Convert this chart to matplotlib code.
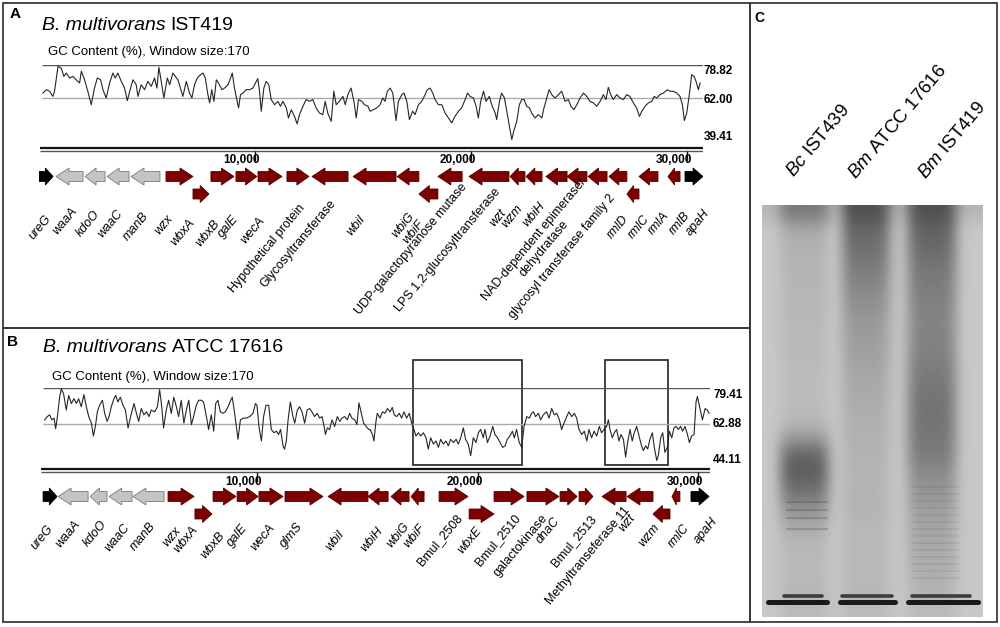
import numpy as np
import matplotlib.pyplot as plt
from matplotlib.patches import Polygon, Rectangle

plt.rcParams['font.family'] = ['Liberation Sans', 'DejaVu Sans']
plt.rcParams['mathtext.fontset'] = 'custom'
plt.rcParams['mathtext.rm'] = 'Liberation Sans'
plt.rcParams['mathtext.it'] = 'Liberation Sans:italic'
plt.rcParams['mathtext.bf'] = 'Liberation Sans:bold'

W, H = 1000, 627

# ---------------- data ----------------
# GC content (%) along the cluster, position in kb
ist_pos = [0.18, 0.34, 0.49, 0.64, 0.72, 0.88, 1.03, 1.15, 1.26, 1.42,
           1.57, 1.72, 1.88, 1.96, 2.11, 2.26, 2.42, 2.57, 2.70, 2.85,
           2.96, 3.11, 3.27, 3.42, 3.53, 3.65, 3.81, 3.96, 4.09, 4.24,
           4.35, 4.50, 4.58, 4.73, 4.89, 5.04, 5.20, 5.35, 5.46, 5.55,
           5.66, 5.78, 5.94, 6.05, 6.20, 6.31, 6.43, 6.55, 6.66, 6.82,
           6.97, 7.08, 7.20, 7.33, 7.48, 7.59, 7.70, 7.82, 7.90, 8.00,
           8.10, 8.21, 8.31, 8.47, 8.59, 8.75, 8.87, 8.95, 9.05, 9.24,
           9.33, 9.44, 9.59, 9.75, 9.90, 10.06, 10.13, 10.21, 10.29, 10.41,
           10.52, 10.64, 10.75, 10.91, 11.06, 11.18, 11.29, 11.45, 11.55, 11.68,
           11.83, 11.95, 12.06, 12.22, 12.37, 12.53, 12.68, 12.83, 12.99, 13.14,
           13.25, 13.37, 13.53, 13.65, 13.76, 13.91, 14.07, 14.18, 14.30, 14.45,
           14.58, 14.69, 14.79, 14.95, 15.07, 15.23,
           15.33, 15.48, 15.64, 15.79, 15.91, 16.02, 16.13, 16.26, 16.38, 16.53,
           16.64, 16.80, 16.90, 17.03, 17.15, 17.30, 17.41, 17.57, 17.72, 17.88,
           17.98, 18.11, 18.23, 18.34, 18.49, 18.65, 18.80, 18.96, 19.11, 19.26,
           19.42, 19.57, 19.73, 19.84, 19.96, 20.11, 20.24, 20.34, 20.45, 20.58,
           20.70, 20.85, 20.96, 21.12, 21.19, 21.32, 21.42, 21.55, 21.66, 21.78,
           21.89, 22.00, 22.12, 22.24, 22.35, 22.46, 22.58, 22.71, 22.81, 22.97,
           23.12, 23.28, 23.38, 23.51, 23.62, 23.74, 23.89, 24.05, 24.20, 24.36,
           24.51, 24.63, 24.77, 24.90, 25.05, 25.21, 25.36, 25.51, 25.67, 25.82,
           25.98, 26.13, 26.25, 26.36, 26.47, 26.59, 26.75, 26.90, 27.06, 27.21,
           27.36, 27.52, 27.67, 27.80, 27.91, 28.06, 28.21, 28.37, 28.48, 28.60,
           28.75, 28.91, 29.09, 29.22, 29.37, 29.53, 29.68, 29.79, 29.88, 29.99,
           30.11, 30.22, 30.33, 30.42, 30.53, 30.61]
ist_gc = [64.5, 66.2, 65.4, 62.8, 65.4, 78.0, 77.1, 72.9, 74.6, 72.1,
          72.9, 71.2, 69.6, 75.5, 71.2, 65.4, 58.6, 67.0, 72.1, 71.2,
          66.2, 62.0, 69.6, 74.6, 72.1, 74.6, 70.4, 67.0, 60.7, 67.0,
          71.2, 68.7, 62.8, 68.7, 66.2, 70.4, 67.9, 72.1, 67.0, 77.5,
          70.4, 62.0, 72.1, 68.7, 74.6, 72.9, 71.2, 67.0, 62.8, 70.4,
          64.5, 62.0, 68.7, 72.1, 73.8, 74.6, 72.1, 63.7, 59.5, 66.2,
          60.3, 71.2, 69.6, 66.2, 67.0, 68.7, 72.1, 74.6, 67.0, 57.0,
          63.7, 64.5, 66.2, 66.2, 67.0, 70.4, 71.8, 65.4, 55.3, 67.0,
          70.4, 68.7, 61.2, 58.6, 60.3, 57.8, 60.3, 57.0, 51.9, 56.1,
          52.7, 48.9, 53.6, 57.8, 61.2, 60.3, 61.2, 57.0, 54.4, 53.6,
          60.3, 54.4, 50.2, 65.4, 58.6, 60.3, 62.8, 58.6, 63.7, 67.0,
          60.3, 51.9, 61.2, 60.3, 58.6, 57.8,
          55.3, 56.1, 57.0, 58.6, 62.0, 60.3, 65.4, 67.0, 64.5, 50.6,
          60.3, 63.7, 64.5, 60.3, 51.1, 55.3, 53.6, 58.6, 60.3, 63.7,
          66.2, 67.0, 64.5, 61.2, 58.6, 58.6, 54.4, 51.9, 49.4, 52.7,
          55.3, 57.0, 61.2, 64.5, 62.8, 62.0, 57.8, 51.9, 60.3, 65.4,
          60.3, 62.8, 58.6, 54.4, 51.1, 60.3, 64.5, 62.0, 55.3, 47.7,
          41.0, 46.0, 50.2, 58.6, 61.2, 61.2, 57.8, 57.0, 54.4, 51.9,
          53.6, 51.9, 57.0, 62.0, 66.2, 63.7, 62.0, 63.7, 65.4, 60.3,
          61.2, 57.8, 56.1, 58.6, 62.0, 64.5, 62.8, 60.3, 59.5, 57.8,
          60.3, 63.7, 61.2, 67.4, 63.7, 61.2, 63.7, 62.0, 61.2, 63.7,
          62.8, 59.5, 57.0, 52.7, 55.3, 57.8, 59.5, 60.3, 62.8, 62.0,
          63.7, 64.5, 66.2, 65.4, 65.4, 64.5, 62.8, 58.6, 50.6, 54.4,
          63.7, 73.8, 72.9, 70.4, 66.2, 69.6]
ist_levels = [39.41, 62.00, 78.82]

atcc_pos = [0.39, 0.51, 0.62, 0.72, 0.82, 0.89, 0.97, 1.07, 1.15, 1.25,
            1.37, 1.48, 1.60, 1.72, 1.83, 1.93, 2.05, 2.17, 2.28, 2.39,
            2.51, 2.60, 2.69, 2.78, 2.88, 3.01, 3.11, 3.22, 3.31, 3.41,
            3.53, 3.61, 3.71, 3.82, 3.94, 4.05, 4.17, 4.27, 4.36, 4.44,
            4.55, 4.65, 4.77, 4.89, 5.00, 5.12, 5.22, 5.38, 5.50, 5.60,
            5.68, 5.78, 5.90, 6.01, 6.13, 6.24, 6.36, 6.46, 6.58, 6.70,
            6.81, 6.92, 7.04, 7.14, 7.26, 7.37, 7.49, 7.59, 7.72, 7.82,
            7.94, 8.05, 8.14, 8.24, 8.35, 8.47, 8.58, 8.70, 8.82, 8.89,
            9.00, 9.15, 9.26, 9.38, 9.53, 9.68, 9.83, 9.94, 10.01, 10.10,
            10.21, 10.31, 10.42, 10.54, 10.66, 10.78, 10.89, 10.99, 11.08, 11.19,
            11.26, 11.34, 11.42, 11.52, 11.64, 11.72, 11.84, 11.94, 12.05, 12.17,
            12.28, 12.40, 12.50, 12.62, 12.74, 12.85, 12.96, 13.05, 13.11, 13.20,
            13.30, 13.41, 13.53, 13.65, 13.76, 13.86, 13.98, 14.10, 14.21, 14.31,
            14.44, 14.54, 14.63, 14.74, 14.84, 14.96, 15.07,
            15.13, 15.24, 15.31, 15.40, 15.46, 15.58, 15.69, 15.81, 15.92, 16.04,
            16.14, 16.23, 16.34, 16.46, 16.56, 16.67, 16.79, 16.91, 17.02, 17.12,
            17.21, 17.32, 17.43, 17.55, 17.67, 17.77, 17.88, 18.00, 18.12, 18.23,
            18.33, 18.45, 18.57, 18.68, 18.78, 18.91, 19.03, 19.13, 19.24, 19.36,
            19.46, 19.58, 19.69, 19.81, 19.93, 20.04, 20.14, 20.26, 20.34, 20.45,
            20.57, 20.69, 20.79, 20.91, 21.02, 21.14, 21.25, 21.35, 21.47, 21.58,
            21.67, 21.77, 21.89, 22.00, 22.11, 22.23, 22.35, 22.45, 22.53, 22.63,
            22.76, 22.86, 22.98, 23.13, 23.24, 23.36, 23.48, 23.59, 23.71, 23.81,
            23.92, 24.04, 24.14, 24.27, 24.39, 24.49, 24.60, 24.72, 24.84, 24.95,
            25.05, 25.17, 25.28, 25.40, 25.52, 25.62, 25.73, 25.85, 25.93, 26.00,
            26.11, 26.20, 26.30, 26.41, 26.50, 26.61, 26.71, 26.80, 26.91, 27.01,
            27.10, 27.21, 27.32, 27.41, 27.51, 27.62, 27.71, 27.81, 27.92, 28.01,
            28.12, 28.19, 28.30, 28.39, 28.49, 28.60, 28.69, 28.80, 28.90, 28.99,
            29.10, 29.20, 29.29, 29.40, 29.51, 29.60, 29.70, 29.81, 29.90, 29.96,
            30.08, 30.19, 30.31, 30.41, 30.49]
atcc_gc = [64.8, 66.3, 67.1, 64.8, 65.6, 60.7, 66.3, 75.2, 79.0, 76.7,
           69.3, 76.0, 72.3, 74.5, 72.3, 74.5, 70.8, 76.4, 70.8, 66.3,
           63.3, 57.4, 61.8, 68.5, 71.5, 73.8, 67.8, 64.1, 66.3, 70.8,
           74.5, 76.0, 73.0, 75.2, 71.5, 69.3, 61.1, 65.6, 69.3, 72.3,
           67.8, 64.1, 70.0, 67.1, 68.5, 66.3, 69.3, 68.5, 70.8, 78.7,
           72.3, 61.1, 69.3, 73.8, 67.8, 75.2, 70.8, 66.3, 73.8, 63.3,
           69.3, 73.8, 62.6, 66.3, 71.5, 73.8, 73.8, 73.0, 66.3, 60.4,
           67.1, 59.6, 72.3, 73.8, 68.5, 67.8, 68.5, 70.8, 73.8, 75.2,
           67.8, 55.9, 64.8, 65.6, 65.6, 66.3, 67.8, 72.3, 71.5, 61.8,
           55.1, 66.3, 71.5, 71.5, 60.4, 58.9, 59.6, 58.1, 60.4, 52.9,
           51.4, 55.1, 64.8, 73.0, 66.3, 63.3, 69.3, 70.8, 68.5, 63.3,
           69.3, 70.0, 68.5, 66.3, 67.8, 65.6, 66.3, 61.8, 58.1, 61.1,
           60.4, 64.8, 61.8, 66.3, 64.1, 65.6, 66.3, 64.8, 67.8, 65.6,
           64.8, 62.6, 72.6, 67.8, 63.3, 61.8, 60.4,
           60.4, 58.1, 55.1, 64.1, 67.8, 65.6, 68.5, 67.8, 70.0, 68.5,
           70.5, 67.1, 66.3, 67.8, 65.6, 68.5, 65.6, 67.8, 63.3, 60.4,
           57.4, 58.9, 57.4, 58.9, 56.6, 51.4, 56.6, 53.7, 55.1, 52.2,
           55.9, 53.7, 55.1, 52.9, 55.9, 54.4, 55.9, 53.7, 56.6, 61.1,
           55.9, 53.7, 48.4, 56.6, 54.4, 58.9, 60.4, 56.6, 60.4, 54.4,
           57.4, 61.8, 58.1, 56.6, 54.4, 52.2, 52.9, 55.9, 57.4, 59.6,
           56.6, 60.4, 54.4, 52.2, 61.8, 66.3, 65.6, 67.8, 68.5, 66.3,
           67.8, 64.8, 67.1, 68.5, 65.6, 70.0, 67.1, 67.8, 64.8, 60.4,
           63.3, 66.3, 68.5, 66.3, 67.8, 65.6, 60.4, 58.1, 59.6, 55.1,
           60.4, 56.6, 59.6, 57.4, 61.8, 58.9, 60.4, 61.8, 64.8, 60.4,
           56.6, 58.9, 60.4, 55.1, 58.1, 55.9, 47.7, 54.4, 60.4, 55.1,
           58.9, 61.8, 57.4, 53.7, 50.7, 52.9, 51.4, 55.9, 58.9, 52.2,
           46.2, 48.4, 56.6, 58.9, 49.9, 52.2, 59.6, 56.6, 61.1, 61.8,
           60.4, 61.8, 59.6, 61.8, 58.1, 54.4, 57.4, 58.1, 73.0, 75.5,
           70.0, 64.8, 70.0, 69.3, 67.8]
atcc_levels = [44.11, 62.88, 79.41]
atcc_boxes = [(17.08, 22.02), (25.78, 28.63)]

# gene maps: name, start / end (kb), strand, row (0 upper, 1 lower)
ist_genes = ['ureG', 'waaA', 'kdoO', 'waaC', 'manB', 'wzx', 'wbxA', 'wbxB', 'galE',
             'wecA', 'Hypothetical protein', 'Glycosyltransferase', 'wbiI', 'wbiG',
             'wbiF', 'UDP-galactopyranose mutase', 'LPS 1,2-glucosyltransferase',
             'wzt', 'wzm', 'wbiH', 'NAD-dependent epimerase/\ndehydratase',
             'glycosyl transferase family 2', 'rmlD', 'rmlC', 'rmlA', 'rmlB', 'apaH']
ist_start = [0.00, 0.79, 2.13, 3.15, 4.26, 5.88, 7.13, 7.96, 9.12, 10.14, 11.48, 12.64,
             14.54, 16.58, 17.59, 18.47, 19.91, 21.81, 22.55, 23.47, 24.45, 25.42,
             26.39, 27.22, 27.78, 29.12, 29.91]
ist_end = [0.65, 2.04, 3.06, 4.17, 5.60, 7.13, 7.87, 9.03, 10.09, 11.25, 12.50, 14.31,
           16.53, 17.59, 18.47, 19.59, 21.76, 22.50, 23.29, 24.45, 25.37, 26.30,
           27.22, 27.78, 28.66, 29.68, 30.74]
ist_strand = [1, -1, -1, -1, -1, 1, 1, 1, 1, 1, 1, -1, -1, -1, -1, -1, -1, -1, -1, -1,
              -1, -1, -1, -1, -1, -1, 1]
ist_row = [0, 0, 0, 0, 0, 0, 1, 0, 0, 0, 0, 0, 0, 0, 1, 0, 0, 0, 0, 0, 0, 0, 0, 1, 0, 0, 0]

atcc_genes = ['ureG', 'waaA', 'kdoO', 'waaC', 'manB', 'wzx', 'wbxA', 'wbxB', 'galE',
              'wecA', 'glmS', 'wbiI', 'wbiH', 'wbiG', 'wbiF', 'Bmul_2508', 'wbxE',
              'Bmul_2510', 'galactokinase', 'dnaC', 'Bmul_2513', 'Methyltranseferase 11',
              'wzt', 'wzm', 'rmlC', 'apaH']
atcc_start = [0.32, 1.00, 2.45, 3.31, 4.39, 5.98, 7.20, 8.02, 9.11, 10.10, 11.28, 13.23,
              15.04, 16.08, 16.99, 18.26, 19.62, 20.75, 22.24, 23.74, 24.60, 25.64,
              26.77, 27.95, 28.81, 29.67]
atcc_end = [0.95, 2.36, 3.22, 4.35, 5.80, 7.16, 7.97, 9.06, 10.06, 11.19, 13.00, 15.04,
            15.95, 16.90, 17.58, 19.57, 20.75, 22.11, 23.69, 24.51, 25.23, 26.73,
            27.95, 28.72, 29.17, 30.49]
atcc_strand = [1, -1, -1, -1, -1, 1, 1, 1, 1, 1, 1, -1, -1, -1, -1, 1, 1, 1, 1, 1, 1,
               -1, -1, -1, -1, 1]
atcc_row = [0, 0, 0, 0, 0, 0, 1, 0, 0, 0, 0, 0, 0, 0, 0, 0, 1, 0, 0, 0, 0, 0, 0, 1, 0, 0]

flanking = {'ureG', 'apaH'}
conserved = {'waaA', 'kdoO', 'waaC', 'manB'}

# LPS gel (panel C): darkness of each lane down the gel, 16 px steps
lane_names = [r'$\mathit{Bc}$ IST439', r'$\mathit{Bm}$ ATCC 17616', r'$\mathit{Bm}$ IST419']
lane1_dark = [0.40, 0.20, 0.15, 0.13, 0.12, 0.12, 0.11, 0.10, 0.10, 0.09, 0.08, 0.08, 0.08,
              0.10, 0.28, 0.62, 0.70, 0.62, 0.45, 0.28, 0.15, 0.10, 0.10, 0.10, 0.12, 0.08]
lane2_dark = [0.66, 0.64, 0.58, 0.52, 0.46, 0.40, 0.35, 0.30, 0.28, 0.25, 0.22, 0.20, 0.18,
              0.16, 0.15, 0.14, 0.13, 0.12, 0.14, 0.12, 0.10, 0.10, 0.10, 0.10, 0.12, 0.08]
lane3_dark = [0.66, 0.66, 0.62, 0.56, 0.51, 0.48, 0.45, 0.44, 0.45, 0.47, 0.50, 0.53, 0.55,
              0.55, 0.53, 0.50, 0.42, 0.35, 0.30, 0.25, 0.22, 0.20, 0.18, 0.15, 0.12, 0.08]
# lane profile across the gel, 8.5 px steps
lane1_cols = [0, 0.1, 0.7, 1, 1, 1, 1, 0.7, 0.1, 0, 0, 0, 0, 0, 0, 0, 0, 0, 0, 0, 0, 0, 0, 0, 0, 0]
lane2_cols = [0, 0, 0, 0, 0, 0, 0, 0, 0, 0.5, 1, 1, 1, 1, 0.8, 0.2, 0, 0, 0, 0, 0, 0, 0, 0, 0, 0]
lane3_cols = [0, 0, 0, 0, 0, 0, 0, 0, 0, 0, 0, 0, 0, 0, 0, 0, 0.1, 0.7, 1, 1, 1, 1, 0.7, 0.1, 0, 0]
front_band = [(6, 65), (78, 133), (146, 216)]
front_band_y = 397
core_band = [(22, 60), (80, 130), (150, 208)]
core_band_y = 391
lane1_bands = [297, 305, 313, 324]
lane3_ladder = [282, 289, 296, 303, 310, 317, 324, 331, 338, 345, 352, 359, 366, 373]

# ---------------- drawing ----------------
fig = plt.figure(figsize=(10, 6.27), dpi=100)
renderer = fig.canvas.get_renderer()


def px_axes(x0, y0, x1, y1):
    return fig.add_axes([x0 / W, 1 - y1 / H, (x1 - x0) / W, (y1 - y0) / H])


ax0 = px_axes(0, 0, W, H)
ax0.set_xlim(0, W)
ax0.set_ylim(H, 0)
ax0.axis('off')
for (x0, y0, x1, y1) in [(3, 3, 750, 328), (3, 328, 750, 622), (750, 3, 997, 622)]:
    ax0.add_patch(Rectangle((x0, y0), x1 - x0, y1 - y0, fill=False, ec='#3a3a3a', lw=1.3))


def arrow_pts(s, e, strand, y, hl, bh=5, hh=8.5):
    h = min(hl, 0.55 * (e - s))
    if strand > 0:
        b = e - h
        return [(s, y - bh), (b, y - bh), (b, y - hh), (e, y), (b, y + hh), (b, y + bh), (s, y + bh)]
    b = s + h
    return [(e, y - bh), (b, y - bh), (b, y - hh), (s, y), (b, y + hh), (b, y + bh), (e, y + bh)]


def draw_map(geo, pos, gc, levels, genes, start, end, strand, row, lab_dx, lab_y, boxes=()):
    x0, kpp, xs, xe = geo['x0'], geo['kpp'], geo['xs'], geo['xe']
    kb_end = (xe - x0) * kpp
    kb_start = (xs - x0) * kpp
    ytop, ybot = geo['ytop'], geo['ybot']

    ag = px_axes(x0, ytop, xe, ybot)
    ag.set_xlim(0, kb_end)
    ag.set_ylim(levels[0], levels[2])
    ag.axis('off')
    ag.hlines(levels[2], kb_start, kb_end, color='#555555', lw=1.0)
    ag.hlines(levels[1], kb_start, kb_end, color='#aaaaaa', lw=1.0)
    ag.hlines(levels[0], kb_start, kb_end, color='#bbbbbb', lw=0.6, linestyles=(0, (1, 2)))
    ag.plot(pos, gc, color='#262626', lw=0.8)
    gc_per_px = (levels[2] - levels[0]) / (ybot - ytop)
    for a, b in boxes:
        top = levels[2] + (ytop - geo['box_top']) * gc_per_px
        ag.add_patch(Rectangle((a, levels[0]), b - a, top - levels[0], fill=False,
                               ec='#222222', lw=1.2, clip_on=False))

    at = px_axes(x0, ytop, xe, H)
    at.set_xlim(0, kb_end)
    at.set_ylim(H, ytop)
    at.axis('off')
    d1, d2 = geo['dbl']
    at.hlines(d1, kb_start - 2 * kpp, kb_end, color='#111111', lw=1.6)
    at.hlines(d2, kb_start - 2 * kpp, kb_end, color='#555555', lw=1.0)
    for t in (10, 20, 30):
        at.vlines(t, d2, d2 + 10, color='#111111', lw=1.0)
        at.annotate(f'{t * 1000:,}', xy=(t, geo['ticky']), xytext=(5, 0),
                    textcoords='offset pixels', ha='right', va='center',
                    fontsize=8.5, fontweight='bold')

    hl = 13 * kpp
    for i, g in enumerate(genes):
        y = geo['rows'][row[i]]
        if g in flanking:
            fc, ec = '#000000', '#000000'
        elif g in conserved:
            fc, ec = '#c4c4c4', '#7a7a7a'
        else:
            fc, ec = '#7d0000', '#560000'
        at.add_patch(Polygon(arrow_pts(start[i], end[i], strand[i], y, hl),
                             closed=True, fc=fc, ec=ec, lw=0.6))
        centre = (start[i] + end[i]) / 2
        at.annotate(g, xy=(centre, lab_y[i]), xytext=(lab_dx[i], 0),
                    textcoords='offset pixels', rotation=50, rotation_mode='anchor',
                    ha='right', va='top', multialignment='center', fontsize=9,
                    style='italic' if len(g) <= 4 else 'normal')

    vx = geo['valx']
    for lv, vy in zip(levels[::-1], geo['valy']):
        ax0.text(vx, vy, f'{lv:.2f}', fontsize=8.5, fontweight='bold', va='center')


def species_title(x, y, strain):
    t = ax0.text(x, y, 'B. multivorans', fontsize=14, style='italic', va='baseline')
    w = t.get_window_extent(renderer).width
    ax0.text(x + w + 5, y, strain, fontsize=14, va='baseline')


geo_a = dict(x0=39, kpp=0.0463, xs=42, xe=703, ytop=64.7, ybot=142.7, dbl=(148, 151),
             ticky=160, rows=(176.5, 194), valx=704, valy=(71, 100, 137))
geo_b = dict(x0=36, kpp=0.0453, xs=43, xe=710, ytop=388, ybot=465, dbl=(468.5, 472),
             ticky=482, rows=(496.5, 514), valx=713, valy=(395, 424, 460), box_top=360)

ist_dx = [-2, 1, -2, -2, -4, -13, -13, -9, -15, -12, 0, -1, -16, 0, -11, 10, 5, -18, -18,
          -18, 2, 11, 4, 10, 14, 9, 9]
ist_laby = [213, 205, 208, 208, 210, 213, 217, 218, 213, 215, 202, 198, 213, 210, 218, 181,
            186, 207, 203, 200, 177, 192, 213, 213, 210, 210, 207]
atcc_dx = [-4, 1, 2, 3, 0, -7, -12, -6, -7, -3, -8, -10, -2, 3, 1, 2, -6, 4, -2, -16, 3, 9,
           -11, -9, 7, 11]
atcc_laby = [523, 518, 518, 522, 520, 525, 524, 530, 522, 522, 520, 528, 525, 520, 522, 512,
             525, 512, 512, 515, 513, 505, 512, 522, 522, 515]

draw_map(geo_a, ist_pos, ist_gc, ist_levels, ist_genes, ist_start, ist_end, ist_strand,
         ist_row, ist_dx, ist_laby)
draw_map(geo_b, atcc_pos, atcc_gc, atcc_levels, atcc_genes, atcc_start, atcc_end,
         atcc_strand, atcc_row, atcc_dx, atcc_laby, boxes=atcc_boxes)

# panel titles
ax0.text(15, 14, 'A', fontsize=11, fontweight='bold', ha='center', va='center')
ax0.text(13, 342, 'B', fontsize=11, fontweight='bold', ha='center', va='center')
ax0.text(759, 18, 'C', fontsize=10, fontweight='bold', ha='center', va='center')
species_title(42, 30, 'IST419')
species_title(43, 352, 'ATCC 17616')
ax0.text(48, 55, 'GC Content (%), Window size:170', fontsize=9.5, va='baseline')
ax0.text(52, 380, 'GC Content (%), Window size:170', fontsize=9.5, va='baseline')

# gel
gel = px_axes(762, 205, 983, 617)
dark = 0.03 + (np.outer(lane1_dark, lane1_cols) + np.outer(lane2_dark, lane2_cols)
               + np.outer(lane3_dark, lane3_cols))
dark[0] += 0.12
img = np.clip(0.80 - 0.60 * dark, 0, 1)
gel.imshow(img, cmap='gray', vmin=0, vmax=1, extent=(0, 221, 416, 0),
           interpolation='bicubic', aspect='auto')
for a, b in core_band:
    gel.plot([a, b], [core_band_y, core_band_y], color='#3c3c3c', lw=2.6, solid_capstyle='round')
for a, b in front_band:
    gel.plot([a, b], [front_band_y, front_band_y], color='#1a1a1a', lw=3.6, solid_capstyle='round')
for y in lane1_bands:
    gel.plot([25, 65], [y, y], color='#444444', lw=1.5, alpha=0.25)
for y in lane3_ladder:
    gel.plot([150, 196], [y, y], color='#555555', lw=1.2, alpha=0.13)
gel.set_xlim(0, 221)
gel.set_ylim(412, 0)
gel.axis('off')

for name, (lx, ly) in zip(lane_names, [(793, 178), (855, 180), (925, 180)]):
    ax0.text(lx, ly, name, fontsize=13.5, rotation=50, rotation_mode='anchor',
             ha='left', va='baseline')

fig.savefig('out.png', dpi=100)
